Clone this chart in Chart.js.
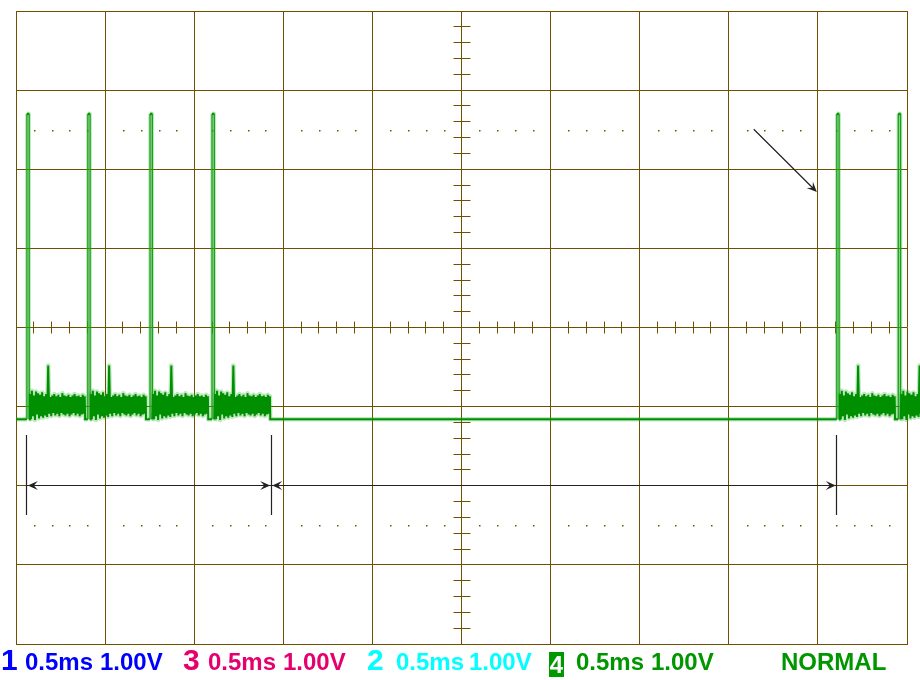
<!DOCTYPE html>
<html>
<head>
<meta charset="utf-8">
<script src="https://cdn.jsdelivr.net/npm/chart.js@4.4.1/dist/chart.umd.min.js"></script>
<style>
  html, body { margin: 0; padding: 0; background: #fff; }
  #wrap { position: relative; width: 920px; height: 680px; overflow: hidden; }
  #scope { position: absolute; left: 0; top: 0; }
  .lbl { position: absolute; top: 650px; font: bold 24px "Liberation Sans", Arial, sans-serif; line-height: 24px; white-space: nowrap; }
  .ch { top: 645px; font-size: 30px; line-height: 30px; }
  .blue { color: #0000ff; }
  .red { color: #e6006e; }
  .cyan { color: #00ffff; }
  .green { color: #009600; }
  .box { position: absolute; left: 549px; top: 652px; width: 15px; height: 25px; background: #009900; color: #fff;
         font: bold 24px "Liberation Sans", Arial, sans-serif; line-height: 25px; text-align: center; }
</style>
</head>
<body>
<div id="wrap">
  <canvas id="scope" width="920" height="680"></canvas>
  <span class="lbl ch blue" style="left:1px">1</span>
  <span class="lbl blue" style="left:25px">0.5ms</span>
  <span class="lbl blue" style="left:100px">1.00V</span>
  <span class="lbl ch red" style="left:183px">3</span>
  <span class="lbl red" style="left:208px">0.5ms</span>
  <span class="lbl red" style="left:283px">1.00V</span>
  <span class="lbl ch cyan" style="left:367px">2</span>
  <span class="lbl cyan" style="left:396px">0.5ms</span>
  <span class="lbl cyan" style="left:469px">1.00V</span>
  <div class="box">4</div>
  <span class="lbl green" style="left:576px">0.5ms</span>
  <span class="lbl green" style="left:651px">1.00V</span>
  <span class="lbl green" style="left:781px">NORMAL</span>
</div>
<script>
(() => {
  'use strict';
  const GRID = '#6e5000';
  const INK = '#222';

  // time axis in ms (0.5 ms/div, 10 div), voltage in V (1 V/div, 8 div)
  const LOW = -1.16;
  const HIGH = 2.70;
  const PULSE_W = 0.013;
  const NOISE_STEP = 0.0057;
  const pulseStart = [0.061, 0.403, 0.752, 1.100, 4.606, 4.951];
  const burstStart = [0.078, 0.420, 0.769, 1.117, 4.623, 4.968];
  // one burst of the noisy level, sample by sample
  const burstNoise = [
    -0.84, -1.16, -0.80, -1.12, -0.86, -1.17, -0.81, -1.10, -0.83, -1.15, -0.85, -1.12,
    -0.82, -1.14, -0.87, -1.11, -0.84, -1.13,
    -0.48,
    -1.09, -0.88, -1.12, -0.86, -1.08, -0.84, -1.11, -0.87, -1.09, -0.85,
    -1.12, -0.88, -1.08, -0.83, -1.10, -0.86, -1.11, -0.87, -1.09, -0.85,
    -1.12, -0.88, -1.10, -0.86, -1.08, -0.84, -1.11, -0.87, -1.09, -0.86,
    -1.12, -0.88, -1.10, -0.85, -1.09, -0.87
  ];

  // cursors and arrows (ms, V)
  const markerTimes = [0.061, 1.432, 4.606];
  const markerRange = [-1.36, -2.37];
  const spanArrows = [[0.061, 1.432], [1.432, 4.606]];
  const spanLevel = -2.0;
  const noteArrow = [[4.140, 2.506], [4.494, 1.713]];
  const dotRows = [2.5, -2.5];

  const trace = [{ x: 0, y: LOW }];
  pulseStart.forEach((t0, i) => {
    trace.push({ x: t0, y: LOW }, { x: t0, y: HIGH }, { x: t0 + PULSE_W, y: HIGH }, { x: t0 + PULSE_W, y: LOW });
    const b0 = burstStart[i];
    burstNoise.forEach((v, k) => trace.push({ x: b0 + k * NOISE_STEP, y: v }));
    trace.push({ x: b0 + (burstNoise.length - 1) * NOISE_STEP + 0.002, y: LOW });
  });

  const minorTimes = [];
  for (let k = 1; k < 50; k++) if (k % 5) minorTimes.push(k / 10);
  const minorVolts = [];
  for (let k = -19; k < 20; k++) if (k % 5) minorVolts.push(k / 5);

  const align = p => Math.round(p - 0.5) + 0.5;
  const edgeSeg = ctx => Math.abs(ctx.p0.parsed.y - ctx.p1.parsed.y) > 1.5;

  function arrowHead(ctx, x1, y1, x2, y2) {
    const a = Math.atan2(y2 - y1, x2 - x1), L = 10, W = 4.5;
    ctx.save();
    ctx.translate(x2, y2); ctx.rotate(a);
    ctx.beginPath();
    ctx.moveTo(0, 0); ctx.lineTo(-L, -W); ctx.lineTo(-L * 0.6, 0); ctx.lineTo(-L, W);
    ctx.closePath(); ctx.fill();
    ctx.restore();
  }

  const scopeMarks = {
    id: 'scopeMarks',
    beforeDatasetsDraw(chart) {
      const { ctx, scales: { x, y } } = chart;
      ctx.save();
      ctx.strokeStyle = GRID; ctx.fillStyle = GRID; ctx.lineWidth = 1;
      const y0 = align(y.getPixelForValue(0)), x0 = align(x.getPixelForValue(2.5));
      ctx.beginPath();
      minorTimes.forEach(t => { const px = align(x.getPixelForValue(t)); ctx.moveTo(px, y0 - 6); ctx.lineTo(px, y0 + 6); });
      minorVolts.forEach(v => { const py = align(y.getPixelForValue(v)); ctx.moveTo(x0 - 8, py); ctx.lineTo(x0 + 9, py); });
      ctx.stroke();
      dotRows.forEach(v => {
        const py = Math.round(y.getPixelForValue(v));
        minorTimes.forEach(t => ctx.fillRect(Math.round(x.getPixelForValue(t)), py, 1.5, 1.5));
      });
      ctx.restore();
    },
    afterDatasetsDraw(chart) {
      const { ctx, scales: { x, y } } = chart;
      ctx.save();
      ctx.strokeStyle = INK; ctx.fillStyle = INK; ctx.lineWidth = 1.2;
      ctx.beginPath();
      markerTimes.forEach(t => {
        const px = align(x.getPixelForValue(t));
        ctx.moveTo(px, y.getPixelForValue(markerRange[0])); ctx.lineTo(px, y.getPixelForValue(markerRange[1]));
      });
      const py = align(y.getPixelForValue(spanLevel));
      spanArrows.forEach(([a, b]) => { ctx.moveTo(x.getPixelForValue(a), py); ctx.lineTo(x.getPixelForValue(b), py); });
      const [p, q] = noteArrow.map(([t, v]) => [x.getPixelForValue(t), y.getPixelForValue(v)]);
      ctx.moveTo(p[0], p[1]); ctx.lineTo(q[0] - 3, q[1] - 3);
      ctx.stroke();
      spanArrows.forEach(([a, b]) => {
        const pa = x.getPixelForValue(a), pb = x.getPixelForValue(b);
        arrowHead(ctx, pb, py, pa + 1, py);
        arrowHead(ctx, pa, py, pb - 1, py);
      });
      arrowHead(ctx, p[0], p[1], q[0], q[1]);
      ctx.restore();
    }
  };

  // bounds set after data limits so the trace is not cut at the graticule edge
  const axisOpts = (min, max, step) => ({
    type: 'linear',
    afterDataLimits: s => { s.min = min; s.max = max; },
    ticks: { display: false, stepSize: step },
    grid: { color: GRID, lineWidth: 1, drawTicks: false },
    border: { color: GRID, width: 1 }
  });

  new Chart(document.getElementById('scope'), {
    type: 'line',
    data: {
      datasets: [
        { data: trace, borderColor: '#0a9a0a', borderWidth: 1.3, order: 0,
          segment: { borderWidth: c => edgeSeg(c) ? 1.3 : 2, borderColor: c => edgeSeg(c) ? '#1aa01a' : '#008f00' } },
        { data: trace, borderColor: 'rgba(40,180,40,0.3)', borderWidth: 4, borderJoinStyle: 'round', order: 1,
          segment: { borderWidth: c => edgeSeg(c) ? 3.5 : 4.5 } }
      ]
    },
    options: {
      responsive: false, animation: false,
      layout: { padding: { left: 16, top: 11, right: 13, bottom: 36 } },
      elements: { point: { radius: 0 }, line: { tension: 0 } },
      datasets: { line: { clip: false } },
      plugins: { legend: { display: false }, tooltip: { enabled: false } },
      scales: { x: axisOpts(0, 5, 0.5), y: axisOpts(-4, 4, 1) }
    },
    plugins: [scopeMarks]
  });
})();
</script>
</body>
</html>
